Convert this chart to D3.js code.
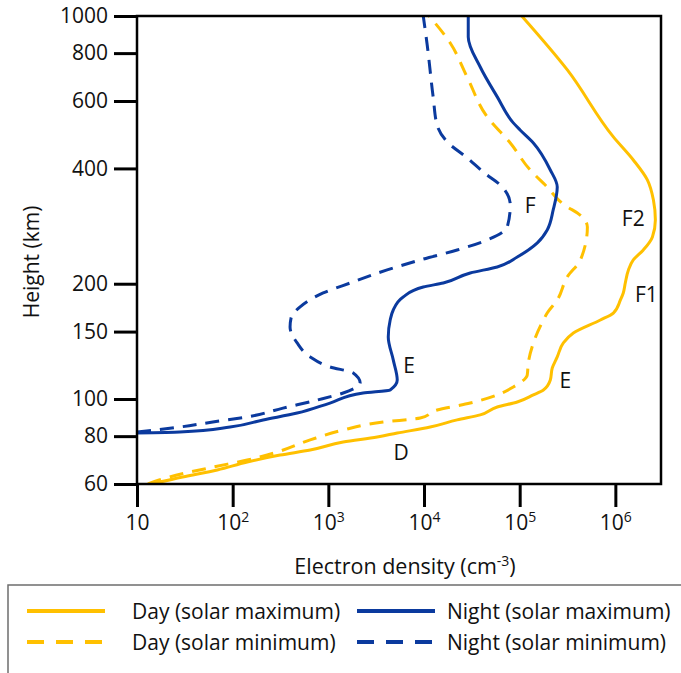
<!DOCTYPE html>
<html>
<head>
<meta charset="utf-8">
<script src="https://cdn.jsdelivr.net/npm/d3@7"></script>
<style>
  html, body { margin: 0; padding: 0; background: #fff; }
  svg text { font-family: "Open Sans", "Noto Sans", sans-serif; fill: #111; }
</style>
</head>
<body>
<svg id="chart" width="681" height="673"></svg>
<script>
// Ionospheric electron density profiles: [height (km), density (cm^-3)]
const dayMax = [
  [60, 14], [62.6, 30], [65.3, 69], [68.5, 142], [71.4, 313], [73.6, 646],
  [77.2, 1430], [79.6, 3240], [81.5, 5250], [84.5, 11600], [88.2, 22200],
  [90.9, 38700], [95.3, 58300], [98.2, 94400], [102.5, 139000], [105.6, 177000],
  [112.1, 209000], [120.5, 219000], [128.8, 247000], [140.1, 286000],
  [148.7, 364000], [160.8, 697000], [167.7, 953000], [181.4, 1130000],
  [189.2, 1210000], [200.9, 1270000], [217.3, 1370000], [230.7, 1540000],
  [245, 1960000], [265, 2440000], [293.5, 2620000], [330.8, 2500000],
  [373.3, 2160000], [420.8, 1540000], [483.4, 953000], [723, 315000],
  [1000, 105000]
];
const dayMin = [
  [60, 13], [62.6, 22], [66.4, 62], [69.3, 142], [72.7, 291], [78.2, 646],
  [83, 1430], [87.1, 3740], [89.2, 9120], [93.6, 13700], [97.6, 30400],
  [102.5, 58300], [107.5, 85800], [115.6, 120000], [124.2, 123000],
  [140.1, 139000], [160.8, 177000], [167.7, 194000], [181.4, 247000],
  [208.5, 315000], [230.7, 431000], [281.3, 510000], [306, 401000],
  [317.2, 315000], [362, 185000], [396, 129000], [466, 79800], [545, 45800],
  [692, 28300], [850, 18800], [1000, 11300]
];
const nightMax = [
  [81.5, 10], [82, 28], [84.5, 94], [88.2, 208], [91.9, 472], [97.6, 1040],
  [103.7, 2310], [105.6, 4430], [112.1, 5250], [126.5, 4770], [145.2, 4230],
  [160.8, 4430], [170.8, 4770], [184.7, 6060], [196.1, 9820], [200.9, 15900],
  [213.4, 30400], [221.2, 58300], [234.9, 94400], [255.6, 153000],
  [276.4, 194000], [311.6, 224000], [357.8, 247000], [396.3, 209000],
  [466, 139000], [504, 101000], [526, 85800], [615, 58300], [736, 38700],
  [882, 29000], [1000, 29000]
];
const nightMin = [
  [82, 10], [84.5, 28], [87.1, 62], [89.8, 142], [94.7, 336], [99.4, 764],
  [103.7, 1430], [110.2, 2150], [117, 1820], [121.3, 1040], [128.8, 646],
  [140.1, 472], [154.2, 398], [162.8, 408], [174, 507], [189.2, 883],
  [200.9, 1690], [217.3, 4120], [230.7, 9120], [245, 22200], [260.2, 45800],
  [281.3, 74100], [321, 79800], [355.6, 67300], [391.5, 41600], [426, 28300],
  [469, 17500], [519, 13700], [611, 12500], [840, 10800], [1000, 9820]
];

const heightTicks = [60, 80, 100, 150, 200, 400, 600, 800, 1000];
const densityTicks = [10, 100, 1000, 10000, 100000, 1000000];

const regionLabels = [
  { text: "F2", h: 297, n: 1540000 },
  { text: "F1", h: 188, n: 2110000 },
  { text: "F", h: 322, n: 129000 },
  { text: "E", h: 123, n: 7000 },
  { text: "E", h: 112, n: 300000 },
  { text: "D", h: 72.7, n: 5780 }
];

const series = [
  { name: "Day (solar maximum)", data: dayMax, color: "#FFC000", dash: null },
  { name: "Day (solar minimum)", data: dayMin, color: "#FFC000", dash: "14,9" },
  { name: "Night (solar maximum)", data: nightMax, color: "#0B3A9E", dash: null },
  { name: "Night (solar minimum)", data: nightMin, color: "#0B3A9E", dash: "14,9" }
];

const svg = d3.select("#chart");
const plot = { left: 137, right: 661, top: 16, bottom: 484 };

const x = d3.scaleLog().domain([10, 3e6]).range([plot.left, plot.right]);
const y = d3.scaleLog().domain([60, 1000]).range([plot.bottom, plot.top]);

svg.append("defs").append("clipPath").attr("id", "plotClip")
  .append("rect")
  .attr("x", plot.left).attr("y", plot.top)
  .attr("width", plot.right - plot.left).attr("height", plot.bottom - plot.top);

// Profiles: height rises monotonically along each profile, so smooth along y
const line = d3.line().x(d => x(d[1])).y(d => y(d[0])).curve(d3.curveMonotoneY);
const curves = svg.append("g").attr("clip-path", "url(#plotClip)");
series.forEach(s => {
  curves.append("path")
    .datum(s.data)
    .attr("d", line)
    .attr("fill", "none")
    .attr("stroke", s.color)
    .attr("stroke-width", 3)
    .attr("stroke-linejoin", "round")
    .attr("stroke-dasharray", s.dash);
});

// Frame
svg.append("rect")
  .attr("x", plot.left).attr("y", plot.top)
  .attr("width", plot.right - plot.left).attr("height", plot.bottom - plot.top)
  .attr("fill", "none").attr("stroke", "#000").attr("stroke-width", 2.5);

// Y axis
const yAxis = d3.axisLeft(y).tickValues(heightTicks).tickFormat(d3.format("d"))
  .tickSize(23).tickPadding(6);
const gy = svg.append("g").attr("transform", `translate(${plot.left},0)`).call(yAxis);
gy.select(".domain").remove();
gy.selectAll(".tick line").attr("stroke", "#000").attr("stroke-width", 3);
gy.selectAll(".tick text").style("font-size", "21px").attr("fill", "#111")
  .style("font-family", "'Open Sans', sans-serif");

// X axis with power-of-ten labels
const xAxis = d3.axisBottom(x).tickValues(densityTicks).tickFormat("").tickSize(23);
const gx = svg.append("g").attr("transform", `translate(0,${plot.bottom})`).call(xAxis);
gx.select(".domain").remove();
gx.selectAll(".tick line").attr("stroke", "#000").attr("stroke-width", 3);
gx.selectAll(".tick").each(function (d) {
  const exp = Math.round(Math.log10(d));
  const t = d3.select(this).append("text")
    .attr("y", 46).attr("text-anchor", "middle")
    .style("font-size", "21px").attr("fill", "#111");
  t.append("tspan").text("10");
  if (exp > 1) {
    t.append("tspan").attr("dy", -8).style("font-size", "14px").text(exp);
  }
});

// Axis titles
svg.append("text")
  .attr("transform", "translate(39,262) rotate(-90)")
  .attr("text-anchor", "middle")
  .style("font-size", "21px")
  .text("Height (km)");

const xt = svg.append("text")
  .attr("x", 405).attr("y", 574)
  .attr("text-anchor", "middle")
  .style("font-size", "21.5px");
xt.append("tspan").text("Electron density (cm");
xt.append("tspan").attr("dy", -8).style("font-size", "14px").text("-3");
xt.append("tspan").attr("dy", 8).text(")");

// Region labels
svg.append("g").selectAll("text").data(regionLabels).join("text")
  .attr("x", d => x(d.n)).attr("y", d => y(d.h))
  .attr("text-anchor", "middle").attr("dominant-baseline", "central")
  .style("font-size", "21px")
  .text(d => d.text);

// Legend
svg.append("rect")
  .attr("x", 8).attr("y", 585).attr("width", 700).attr("height", 120)
  .attr("fill", "none").attr("stroke", "#6e6e6e").attr("stroke-width", 1.5);

const legendPos = [
  { lx: 27, tx: 132, ly: 611 },
  { lx: 27, tx: 132, ly: 642 },
  { lx: 357, tx: 447, ly: 611 },
  { lx: 357, tx: 447, ly: 642 }
];
series.forEach((s, i) => {
  const p = legendPos[i];
  svg.append("line")
    .attr("x1", p.lx).attr("x2", p.lx + 78).attr("y1", p.ly).attr("y2", p.ly)
    .attr("stroke", s.color).attr("stroke-width", 4)
    .attr("stroke-dasharray", s.dash ? "17,12" : null);
  svg.append("text")
    .attr("x", p.tx).attr("y", p.ly).attr("dominant-baseline", "central")
    .style("font-size", "21px")
    .text(s.name);
});
</script>
</body>
</html>
